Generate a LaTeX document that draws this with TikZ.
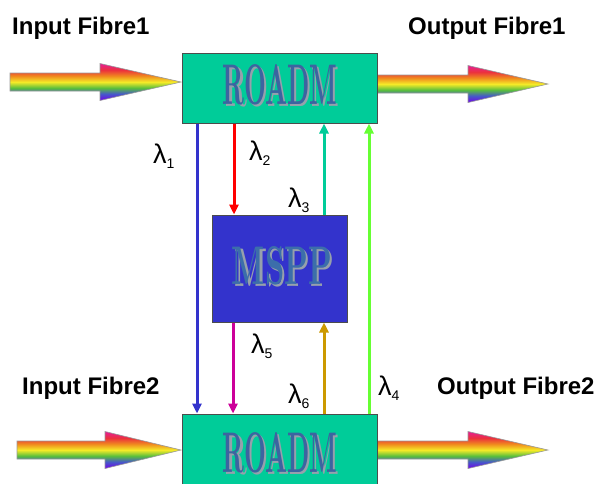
\documentclass[tikz,border=0pt]{standalone}
\usepackage{fontspec}
\newfontfamily\arial{Liberation Sans}
\usetikzlibrary{arrows.meta}
\definecolor{rbviolet}{RGB}{115,0,235}
\definecolor{rbblue}{RGB}{70,90,200}
\definecolor{rbgreen}{RGB}{90,190,60}
\definecolor{rbyellow}{RGB}{245,235,40}
\definecolor{rborange}{RGB}{240,140,30}
\definecolor{rbred}{RGB}{235,50,60}
\definecolor{rbmagenta}{RGB}{230,30,150}
\definecolor{roadmfill}{RGB}{0,204,153}
\definecolor{msppfill}{RGB}{51,51,204}
\definecolor{boxtxt}{RGB}{60,100,160}
\definecolor{msptxt}{RGB}{60,110,170}
\definecolor{shadowgray}{RGB}{150,160,172}
\definecolor{cl1}{RGB}{51,51,204}
\definecolor{cl2}{RGB}{255,0,0}
\definecolor{cl3}{RGB}{0,204,153}
\definecolor{cl4}{RGB}{102,255,51}
\definecolor{cl5}{RGB}{204,0,153}
\definecolor{cl6}{RGB}{204,153,0}
\pgfdeclareverticalshading{rainbowsh}{100bp}{color(0bp)=(rbviolet); color(25bp)=(rbviolet); color(34bp)=(rbblue); color(42bp)=(rbgreen); color(50bp)=(rbyellow); color(58bp)=(rborange); color(66bp)=(rbred); color(75bp)=(rbmagenta); color(100bp)=(rbmagenta)}
\newcommand\lsub[1]{\raisebox{-5pt}{\fontsize{14}{14}\selectfont #1}}
\newcommand\rbarrow[4]{% x0, xbase, xtip, yc
  \shadedraw[shading=rainbowsh, draw=gray!80, line width=0.6pt]
    (#1,#4-9) -- (#2,#4-9) -- (#2,#4-18.5) -- (#3,#4) -- (#2,#4+18.5) -- (#2,#4+9) -- (#1,#4+9) -- cycle;}
\begin{document}
\begin{tikzpicture}[x=1pt,y=-1pt,
  boxstyle/.style={draw=black!70, line width=1pt, inner sep=0pt, minimum width=195pt, minimum height=70pt},
  lbl/.style={font=\arial\bfseries\fontsize{24}{24}\selectfont, anchor=base west, inner sep=0pt},
  lam/.style={font=\arial\fontsize{27}{27}\selectfont, anchor=base west, inner sep=0pt},
  wl/.style={line width=3pt, -{Triangle[length=10pt,width=9pt]}}]
\clip (0,0) rectangle (602,483);
\fill[white] (0,0) rectangle (602,483);
% rainbow fibres
\rbarrow{10}{100}{181}{82}
\rbarrow{377}{468}{548}{84}
\rbarrow{17}{105}{181}{450}
\rbarrow{377}{468}{548}{450}
% boxes
\node[boxstyle, fill=roadmfill] (roadm1) at (279.5,88) {};
\node[boxstyle, fill=roadmfill] (roadm2) at (279.5,449) {};
\node[draw=black!70, line width=1pt, fill=msppfill, inner sep=0pt, minimum width=135pt, minimum height=107pt] (mspp) at (279.5,268.5) {};
% box texts
\node[text=shadowgray, inner sep=0pt] (r1s) at (282.5,87) {\resizebox{114pt}{40pt}{\bfseries ROADM}};
\node[text=boxtxt, inner sep=0pt] (r1t) at (280,85) {\resizebox{114pt}{40pt}{\bfseries ROADM}};
\node[text=shadowgray, inner sep=0pt] (r2s) at (282.5,454.5) {\resizebox{114pt}{40pt}{\bfseries ROADM}};
\node[text=boxtxt, inner sep=0pt] (r2t) at (280,452.5) {\resizebox{114pt}{40pt}{\bfseries ROADM}};
\node[text=shadowgray, inner sep=0pt] (ms) at (284.5,268) {\resizebox{100pt}{38pt}{\bfseries MSPP}};
\node[text=msptxt, inner sep=0pt] (mt) at (282,266) {\resizebox{100pt}{38pt}{\bfseries MSPP}};
% connectors
\coordinate (x1) at (197,0);
\coordinate (x2) at (234,0);
\coordinate (x3) at (324,0);
\coordinate (x4) at (369,0);
\coordinate (x5) at (233,0);
\coordinate (x6) at (324,0);
\draw[wl, cl1] (x1 |- roadm1.south) -- (x1 |- roadm2.north);
\draw[wl, cl2] (x2 |- roadm1.south) -- (x2 |- mspp.north);
\draw[wl, cl3] (x3 |- mspp.north) -- (x3 |- roadm1.south);
\draw[wl, cl4] (x4 |- roadm2.north) -- (x4 |- roadm1.south);
\draw[wl, cl5] (x5 |- mspp.south) -- (x5 |- roadm2.north);
\draw[wl, cl6] (x6 |- roadm2.north) -- (x6 |- mspp.south);
% lambda labels
\node[lam] (lam1) at (153,163) {λ\lsub{1}};
\node[lam] (lam2) at (249,160) {λ\lsub{2}};
\node[lam] (lam3) at (288,207) {λ\lsub{3}};
\node[lam] (lam4) at (378,395) {λ\lsub{4}};
\node[lam] (lam5) at (251,353) {λ\lsub{5}};
\node[lam] (lam6) at (288,403) {λ\lsub{6}};
% fibre labels
\node[lbl] (in1) at (12,34) {Input Fibre1};
\node[lbl] (out1) at (408,34) {Output Fibre1};
\node[lbl] (in2) at (22,394) {Input Fibre2};
\node[lbl] (out2) at (437,394) {Output Fibre2};
\end{tikzpicture}
\end{document}
